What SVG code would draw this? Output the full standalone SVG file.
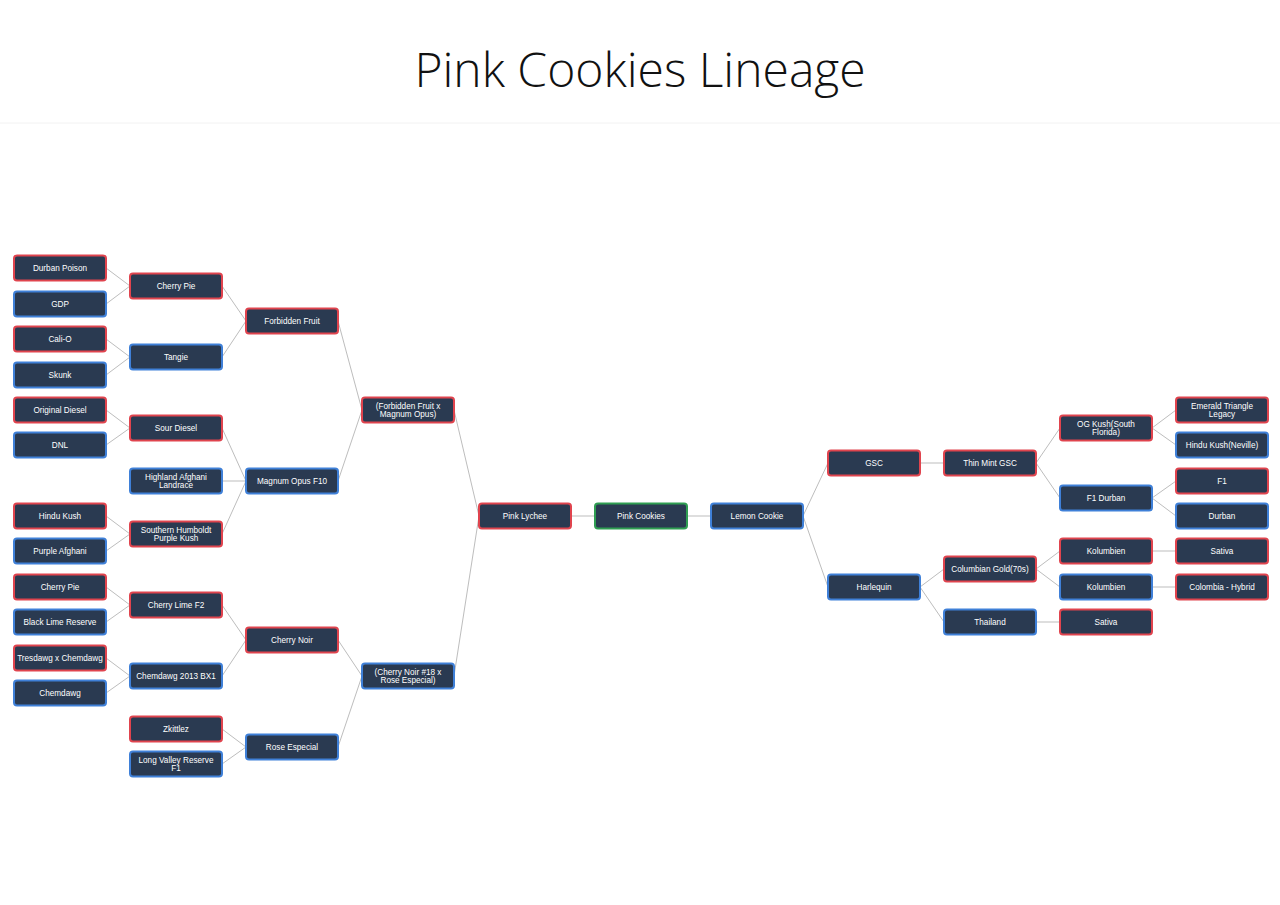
<svg xmlns="http://www.w3.org/2000/svg" width="1280" height="905" viewBox="0 0 1280 905">
<style>
.n rect{fill:#2a3a51;stroke-width:2}
.r rect{stroke:#e0444e}.b rect{stroke:#3f80d8}.g rect{stroke:#2f9e52}
.n text{fill:#fff;font-family:"Liberation Sans",Arial,sans-serif;font-size:8.2px;text-anchor:middle}
#links line{stroke:#bdbdbd;stroke-width:1}
</style>
<rect width="1280" height="905" fill="#fff"/>
<line x1="0" y1="123" x2="1280" y2="123" stroke="#f2f2f2"/>
<text x="640" y="87" font-family="'Open Sans','Noto Sans',sans-serif" font-weight="300" font-size="48" fill="#111" text-anchor="middle">Pink Cookies Lineage</text>
<g id="links">
<line x1="106" y1="268" x2="130" y2="286"/><line x1="106" y1="304" x2="130" y2="286"/>
<line x1="106" y1="339" x2="130" y2="357"/><line x1="106" y1="375" x2="130" y2="357"/>
<line x1="106" y1="410" x2="130" y2="428"/><line x1="106" y1="445" x2="130" y2="428"/>
<line x1="106" y1="516" x2="130" y2="534"/><line x1="106" y1="551" x2="130" y2="534"/>
<line x1="106" y1="587" x2="130" y2="605"/><line x1="106" y1="622" x2="130" y2="605"/>
<line x1="106" y1="658" x2="130" y2="676"/><line x1="106" y1="693" x2="130" y2="676"/>
<line x1="222" y1="286" x2="246" y2="321"/><line x1="222" y1="357" x2="246" y2="321"/>
<line x1="222" y1="428" x2="246" y2="481"/><line x1="222" y1="481" x2="246" y2="481"/><line x1="222" y1="534" x2="246" y2="481"/>
<line x1="222" y1="605" x2="246" y2="640"/><line x1="222" y1="676" x2="246" y2="640"/>
<line x1="222" y1="729" x2="246" y2="747"/><line x1="222" y1="764" x2="246" y2="747"/>
<line x1="338" y1="321" x2="362" y2="410"/><line x1="338" y1="481" x2="362" y2="410"/>
<line x1="338" y1="640" x2="362" y2="676"/><line x1="338" y1="747" x2="362" y2="676"/>
<line x1="454" y1="410" x2="479" y2="516"/><line x1="454" y1="676" x2="479" y2="516"/>
<line x1="571" y1="516" x2="595" y2="516"/><line x1="687" y1="516" x2="711" y2="516"/>
<line x1="803" y1="516" x2="828" y2="463"/><line x1="803" y1="516" x2="828" y2="587"/>
<line x1="920" y1="463" x2="944" y2="463"/>
<line x1="920" y1="587" x2="944" y2="569"/><line x1="920" y1="587" x2="944" y2="622"/>
<line x1="1036" y1="463" x2="1060" y2="428"/><line x1="1036" y1="463" x2="1060" y2="498"/>
<line x1="1036" y1="569" x2="1060" y2="551"/><line x1="1036" y1="569" x2="1060" y2="587"/>
<line x1="1036" y1="622" x2="1060" y2="622"/>
<line x1="1152" y1="428" x2="1176" y2="410"/><line x1="1152" y1="428" x2="1176" y2="445"/>
<line x1="1152" y1="498" x2="1176" y2="481"/><line x1="1152" y1="498" x2="1176" y2="516"/>
<line x1="1152" y1="551" x2="1176" y2="551"/><line x1="1152" y1="587" x2="1176" y2="587"/>
</g>
<g id="n1" class="n r" transform="translate(14,268)"><rect x="0" y="-12.5" width="92" height="25" rx="3"/><text x="46" y="3">Durban Poison</text></g>
<g id="n2" class="n b" transform="translate(14,304)"><rect x="0" y="-12.5" width="92" height="25" rx="3"/><text x="46" y="3">GDP</text></g>
<g id="n3" class="n r" transform="translate(14,339)"><rect x="0" y="-12.5" width="92" height="25" rx="3"/><text x="46" y="3">Cali-O</text></g>
<g id="n4" class="n b" transform="translate(14,375)"><rect x="0" y="-12.5" width="92" height="25" rx="3"/><text x="46" y="3">Skunk</text></g>
<g id="n5" class="n r" transform="translate(14,410)"><rect x="0" y="-12.5" width="92" height="25" rx="3"/><text x="46" y="3">Original Diesel</text></g>
<g id="n6" class="n b" transform="translate(14,445)"><rect x="0" y="-12.5" width="92" height="25" rx="3"/><text x="46" y="3">DNL</text></g>
<g id="n7" class="n r" transform="translate(14,516)"><rect x="0" y="-12.5" width="92" height="25" rx="3"/><text x="46" y="3">Hindu Kush</text></g>
<g id="n8" class="n b" transform="translate(14,551)"><rect x="0" y="-12.5" width="92" height="25" rx="3"/><text x="46" y="3">Purple Afghani</text></g>
<g id="n9" class="n r" transform="translate(14,587)"><rect x="0" y="-12.5" width="92" height="25" rx="3"/><text x="46" y="3">Cherry Pie</text></g>
<g id="n10" class="n b" transform="translate(14,622)"><rect x="0" y="-12.5" width="92" height="25" rx="3"/><text x="46" y="3">Black Lime Reserve</text></g>
<g id="n11" class="n r" transform="translate(14,658)"><rect x="0" y="-12.5" width="92" height="25" rx="3"/><text x="46" y="3">Tresdawg x Chemdawg</text></g>
<g id="n12" class="n b" transform="translate(14,693)"><rect x="0" y="-12.5" width="92" height="25" rx="3"/><text x="46" y="3">Chemdawg</text></g>
<g id="n13" class="n r" transform="translate(130,286)"><rect x="0" y="-12.5" width="92" height="25" rx="3"/><text x="46" y="3">Cherry Pie</text></g>
<g id="n14" class="n b" transform="translate(130,357)"><rect x="0" y="-12.5" width="92" height="25" rx="3"/><text x="46" y="3">Tangie</text></g>
<g id="n15" class="n r" transform="translate(130,428)"><rect x="0" y="-12.5" width="92" height="25" rx="3"/><text x="46" y="3">Sour Diesel</text></g>
<g id="n16" class="n b" transform="translate(130,481)"><rect x="0" y="-12.5" width="92" height="25" rx="3"/><text x="46" y="-1">Highland Afghani</text><text x="46" y="7">Landrace</text></g>
<g id="n17" class="n r" transform="translate(130,534)"><rect x="0" y="-12.5" width="92" height="25" rx="3"/><text x="46" y="-1">Southern Humboldt</text><text x="46" y="7">Purple Kush</text></g>
<g id="n18" class="n r" transform="translate(130,605)"><rect x="0" y="-12.5" width="92" height="25" rx="3"/><text x="46" y="3">Cherry Lime F2</text></g>
<g id="n19" class="n b" transform="translate(130,676)"><rect x="0" y="-12.5" width="92" height="25" rx="3"/><text x="46" y="3">Chemdawg 2013 BX1</text></g>
<g id="n20" class="n r" transform="translate(130,729)"><rect x="0" y="-12.5" width="92" height="25" rx="3"/><text x="46" y="3">Zkittlez</text></g>
<g id="n21" class="n b" transform="translate(130,764)"><rect x="0" y="-12.5" width="92" height="25" rx="3"/><text x="46" y="-1">Long Valley Reserve</text><text x="46" y="7">F1</text></g>
<g id="n22" class="n r" transform="translate(246,321)"><rect x="0" y="-12.5" width="92" height="25" rx="3"/><text x="46" y="3">Forbidden Fruit</text></g>
<g id="n23" class="n b" transform="translate(246,481)"><rect x="0" y="-12.5" width="92" height="25" rx="3"/><text x="46" y="3">Magnum Opus F10</text></g>
<g id="n24" class="n r" transform="translate(246,640)"><rect x="0" y="-12.5" width="92" height="25" rx="3"/><text x="46" y="3">Cherry Noir</text></g>
<g id="n25" class="n b" transform="translate(246,747)"><rect x="0" y="-12.5" width="92" height="25" rx="3"/><text x="46" y="3">Rose Especial</text></g>
<g id="n26" class="n r" transform="translate(362,410)"><rect x="0" y="-12.5" width="92" height="25" rx="3"/><text x="46" y="-1">(Forbidden Fruit x</text><text x="46" y="7">Magnum Opus)</text></g>
<g id="n27" class="n b" transform="translate(362,676)"><rect x="0" y="-12.5" width="92" height="25" rx="3"/><text x="46" y="-1">(Cherry Noir #18 x</text><text x="46" y="7">Rose Especial)</text></g>
<g id="n28" class="n r" transform="translate(479,516)"><rect x="0" y="-12.5" width="92" height="25" rx="3"/><text x="46" y="3">Pink Lychee</text></g>
<g id="n29" class="n g" transform="translate(595,516)"><rect x="0" y="-12.5" width="92" height="25" rx="3"/><text x="46" y="3">Pink Cookies</text></g>
<g id="n30" class="n b" transform="translate(711,516)"><rect x="0" y="-12.5" width="92" height="25" rx="3"/><text x="46" y="3">Lemon Cookie</text></g>
<g id="n31" class="n r" transform="translate(828,463)"><rect x="0" y="-12.5" width="92" height="25" rx="3"/><text x="46" y="3">GSC</text></g>
<g id="n32" class="n b" transform="translate(828,587)"><rect x="0" y="-12.5" width="92" height="25" rx="3"/><text x="46" y="3">Harlequin</text></g>
<g id="n33" class="n r" transform="translate(944,463)"><rect x="0" y="-12.5" width="92" height="25" rx="3"/><text x="46" y="3">Thin Mint GSC</text></g>
<g id="n34" class="n r" transform="translate(944,569)"><rect x="0" y="-12.5" width="92" height="25" rx="3"/><text x="46" y="3">Columbian Gold(70s)</text></g>
<g id="n35" class="n b" transform="translate(944,622)"><rect x="0" y="-12.5" width="92" height="25" rx="3"/><text x="46" y="3">Thailand</text></g>
<g id="n36" class="n r" transform="translate(1060,428)"><rect x="0" y="-12.5" width="92" height="25" rx="3"/><text x="46" y="-1">OG Kush(South</text><text x="46" y="7">Florida)</text></g>
<g id="n37" class="n b" transform="translate(1060,498)"><rect x="0" y="-12.5" width="92" height="25" rx="3"/><text x="46" y="3">F1 Durban</text></g>
<g id="n38" class="n r" transform="translate(1060,551)"><rect x="0" y="-12.5" width="92" height="25" rx="3"/><text x="46" y="3">Kolumbien</text></g>
<g id="n39" class="n b" transform="translate(1060,587)"><rect x="0" y="-12.5" width="92" height="25" rx="3"/><text x="46" y="3">Kolumbien</text></g>
<g id="n40" class="n r" transform="translate(1060,622)"><rect x="0" y="-12.5" width="92" height="25" rx="3"/><text x="46" y="3">Sativa</text></g>
<g id="n41" class="n r" transform="translate(1176,410)"><rect x="0" y="-12.5" width="92" height="25" rx="3"/><text x="46" y="-1">Emerald Triangle</text><text x="46" y="7">Legacy</text></g>
<g id="n42" class="n b" transform="translate(1176,445)"><rect x="0" y="-12.5" width="92" height="25" rx="3"/><text x="46" y="3">Hindu Kush(Neville)</text></g>
<g id="n43" class="n r" transform="translate(1176,481)"><rect x="0" y="-12.5" width="92" height="25" rx="3"/><text x="46" y="3">F1</text></g>
<g id="n44" class="n b" transform="translate(1176,516)"><rect x="0" y="-12.5" width="92" height="25" rx="3"/><text x="46" y="3">Durban</text></g>
<g id="n45" class="n r" transform="translate(1176,551)"><rect x="0" y="-12.5" width="92" height="25" rx="3"/><text x="46" y="3">Sativa</text></g>
<g id="n46" class="n r" transform="translate(1176,587)"><rect x="0" y="-12.5" width="92" height="25" rx="3"/><text x="46" y="3">Colombia - Hybrid</text></g>
</svg>
